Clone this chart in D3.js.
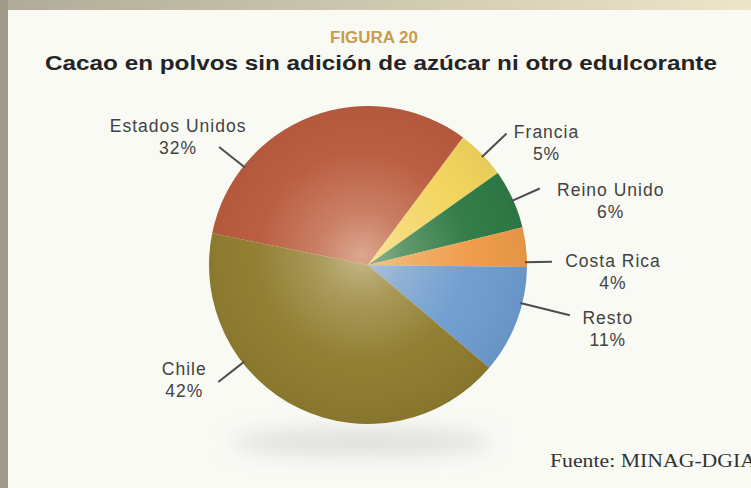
<!DOCTYPE html>
<html>
<head>
<meta charset="utf-8">
<script src="https://cdn.jsdelivr.net/npm/d3@7"></script>
<style>
  html, body { margin: 0; padding: 0; background: #f9faf4; }
  svg { display: block; }
</style>
</head>
<body>
<svg id="chart"></svg>
<script>
const width = 751, height = 488;

// data
const categories = ["Estados Unidos", "Francia", "Reino Unido", "Costa Rica", "Resto", "Chile"];
const shares = [32, 5, 6, 4, 11, 42];
const sliceColors = ["#b8583b", "#f2d35a", "#2c7944", "#ee9a46", "#6c9bd0", "#8e7b2d"];

// leader line layout (degrees clockwise from 12 o'clock, outer length, label offset)
const leaderAngles = [-51.6, 46.5, 66, 89, 104, 232];
const leaderOuter = [190, 191, 188, 184, 208, 190];
const labelDx = [-41, 40, 71, 61, 38, -34];
const labelDy = [-15, 4, 7, 5, 9, -7];

const cx = 368, cy = 265, r = 159;
const rad = Math.PI / 180;
const startAngle = -78.5 * rad;

const svg = d3.select("#chart").attr("width", width).attr("height", height);
const defs = svg.append("defs");

// page frame (scan border)
const topGrad = defs.append("linearGradient").attr("id", "topband");
topGrad.append("stop").attr("offset", "0%").attr("stop-color", "#b0ab98");
topGrad.append("stop").attr("offset", "100%").attr("stop-color", "#ebe5c9");
svg.append("rect").attr("width", width).attr("height", height).attr("fill", "#f9faf4");
svg.append("rect").attr("width", width).attr("height", 10).attr("fill", "url(#topband)");
svg.append("rect").attr("width", 8).attr("height", height).attr("fill", "#a19b89");

// condensed-looking bold titles: squeeze a regular bold face horizontally
function fitText(sel, cxText, targetWidth) {
  const w = sel.node().getComputedTextLength();
  const s = targetWidth / w;
  sel.attr("x", 0).attr("transform", `translate(${cxText},0) scale(${s},1)`);
}

const fig = svg.append("text")
  .attr("y", 43)
  .attr("text-anchor", "middle")
  .attr("font-family", "'Liberation Sans', Arial, sans-serif")
  .attr("font-weight", "bold").attr("font-size", 16)
  .attr("fill", "#c89c4a")
  .text("FIGURA 20");
fitText(fig, 374, 88);

const sub = svg.append("text")
  .attr("y", 70)
  .attr("text-anchor", "middle")
  .attr("font-family", "'Liberation Sans', Arial, sans-serif")
  .attr("font-weight", "bold").attr("font-size", 20.5)
  .attr("fill", "#242424")
  .text("Cacao en polvos sin adición de azúcar ni otro edulcorante");
fitText(sub, 381, 672);

// shadow under the pie
const blur = defs.append("filter").attr("id", "blur")
  .attr("x", "-50%").attr("y", "-100%").attr("width", "200%").attr("height", "300%");
blur.append("feGaussianBlur").attr("stdDeviation", 10);
svg.append("ellipse")
  .attr("cx", 362).attr("cy", 442).attr("rx", 130).attr("ry", 14)
  .attr("fill", "#e0e0dd").attr("filter", "url(#blur)");

// pie
const pie = d3.pie().sort(null).value(d => d.value)
  .startAngle(startAngle).endAngle(startAngle + 2 * Math.PI);
const table = categories.map((c, i) => ({name: c, value: shares[i], color: sliceColors[i], i}));
const arcs = pie(table);
const arc = d3.arc().innerRadius(0).outerRadius(r);

const g = svg.append("g").attr("transform", `translate(${cx},${cy})`);
g.selectAll("path.slice")
  .data(arcs)
  .join("path")
  .attr("class", "slice")
  .attr("d", arc)
  .attr("fill", d => d.data.color);

// soft warm highlight towards the centre
const shine = defs.append("radialGradient").attr("id", "shine")
  .attr("cx", "48%").attr("cy", "47%").attr("r", "55%");
shine.append("stop").attr("offset", "0%").attr("stop-color", "#fff6e4").attr("stop-opacity", 0.5);
shine.append("stop").attr("offset", "25%").attr("stop-color", "#fff6e4").attr("stop-opacity", 0.25);
shine.append("stop").attr("offset", "60%").attr("stop-color", "#fff6e4").attr("stop-opacity", 0.04);
shine.append("stop").attr("offset", "100%").attr("stop-color", "#000").attr("stop-opacity", 0.06);
g.append("circle").attr("r", r).attr("fill", "url(#shine)");

// leader lines
const pointAt = (deg, radius) => d3.arc().innerRadius(radius).outerRadius(radius)
  .startAngle(deg * rad).endAngle(deg * rad).centroid();

const leaders = arcs.map(d => {
  const i = d.data.i;
  const p0 = pointAt(leaderAngles[i], r - 2);
  const p1 = pointAt(leaderAngles[i], leaderOuter[i]);
  return {d, p0, p1};
});

g.selectAll("line.leader")
  .data(leaders)
  .join("line")
  .attr("class", "leader")
  .attr("x1", l => l.p0[0]).attr("y1", l => l.p0[1])
  .attr("x2", l => l.p1[0]).attr("y2", l => l.p1[1])
  .attr("stroke", "#4d4d4d").attr("stroke-width", 2);

// labels
const labels = g.selectAll("text.label")
  .data(leaders)
  .join("text")
  .attr("class", "label")
  .attr("text-anchor", "middle")
  .attr("font-family", "'Liberation Sans', Arial, sans-serif")
  .attr("font-size", 17.5)
  .attr("letter-spacing", 1)
  .attr("fill", "#424242");

labels.append("tspan")
  .attr("x", l => l.p1[0] + labelDx[l.d.data.i])
  .attr("y", l => l.p1[1] + labelDy[l.d.data.i])
  .text(l => l.d.data.name);

labels.append("tspan")
  .attr("x", l => l.p1[0] + labelDx[l.d.data.i])
  .attr("y", l => l.p1[1] + labelDy[l.d.data.i] + 22)
  .text(l => l.d.data.value + "%");

// source
svg.append("text")
  .attr("x", 550).attr("y", 467)
  .attr("font-family", "'Liberation Serif', 'Times New Roman', serif")
  .attr("font-size", 18)
  .attr("fill", "#333")
  .attr("textLength", 206).attr("lengthAdjust", "spacingAndGlyphs")
  .text("Fuente: MINAG-DGIA");
</script>
</body>
</html>
